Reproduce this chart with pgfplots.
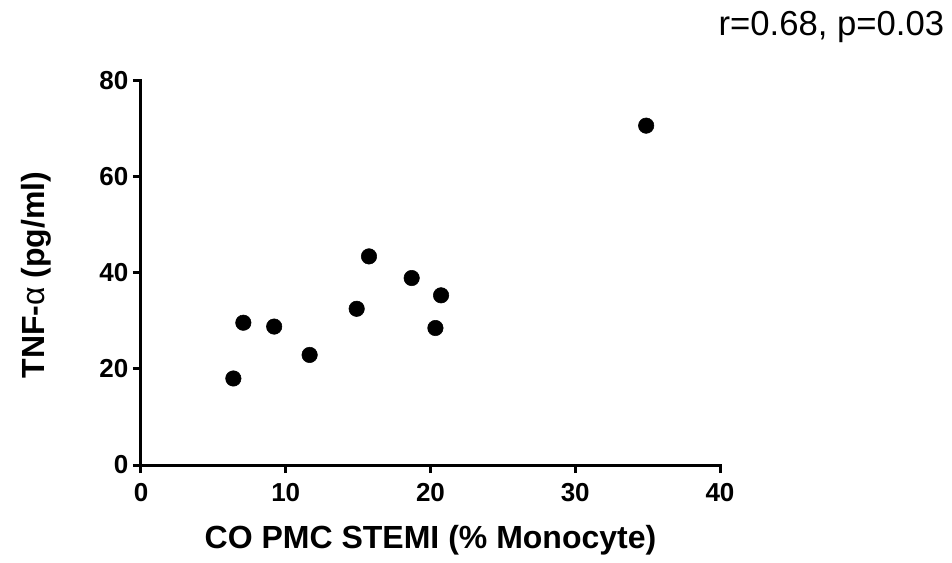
\documentclass[border=0pt]{standalone}
\usepackage{fontspec}
\setmainfont{Liberation Sans}
\usepackage{pgfplots}
\pgfplotsset{compat=1.18}
\begin{document}
\begin{tikzpicture}
\begin{axis}[
  at={(0,0)}, anchor=south west,
  scale only axis,
  width=434.25pt, height=288.4pt,
  xmin=0, xmax=40, ymin=0, ymax=80,
  axis lines*=left,
  axis line style={line width=2.25pt, line cap=rect},
  xtick={0,10,20,30,40},
  ytick={0,20,40,60,80},
  tick align=outside,
  major tick length=6pt,
  tick style={line width=2.25pt, black},
  /pgf/number format/assume math mode=true,
  ticklabel style={font=\fontsize{19.5}{21}\selectfont\bfseries},
  xticklabel style={yshift=-4.5pt},
  yticklabel style={xshift=0pt},
  xlabel={CO PMC STEMI (\% Monocyte)},
  ylabel={TNF-{\mdseries α} (pg/ml)},
  label style={font=\fontsize{24}{26}\selectfont\bfseries},
  xlabel style={at={(axis description cs:0.5,-0.2184)}, anchor=base},
  ylabel style={at={(axis description cs:-0.1658,0.494)}, anchor=base},
  clip=false,
]
\addplot[only marks, mark=*, mark size=5.8pt, black] coordinates {
  (6.38,18.0) (7.07,29.6) (9.2,28.8) (11.65,22.9) (14.9,32.5)
  (15.75,43.4) (18.7,38.9) (20.73,35.3) (20.34,28.5) (34.9,70.6)
};
\node[anchor=base east, inner sep=0pt, font=\fontsize{26}{28}\selectfont] at (axis cs:55.5,89.3) {r=0.68, p=0.03};
\end{axis}
\pgfresetboundingbox
\path (-105.75pt,-73.5pt) rectangle (608.25pt,348.75pt);
\end{tikzpicture}
\end{document}
